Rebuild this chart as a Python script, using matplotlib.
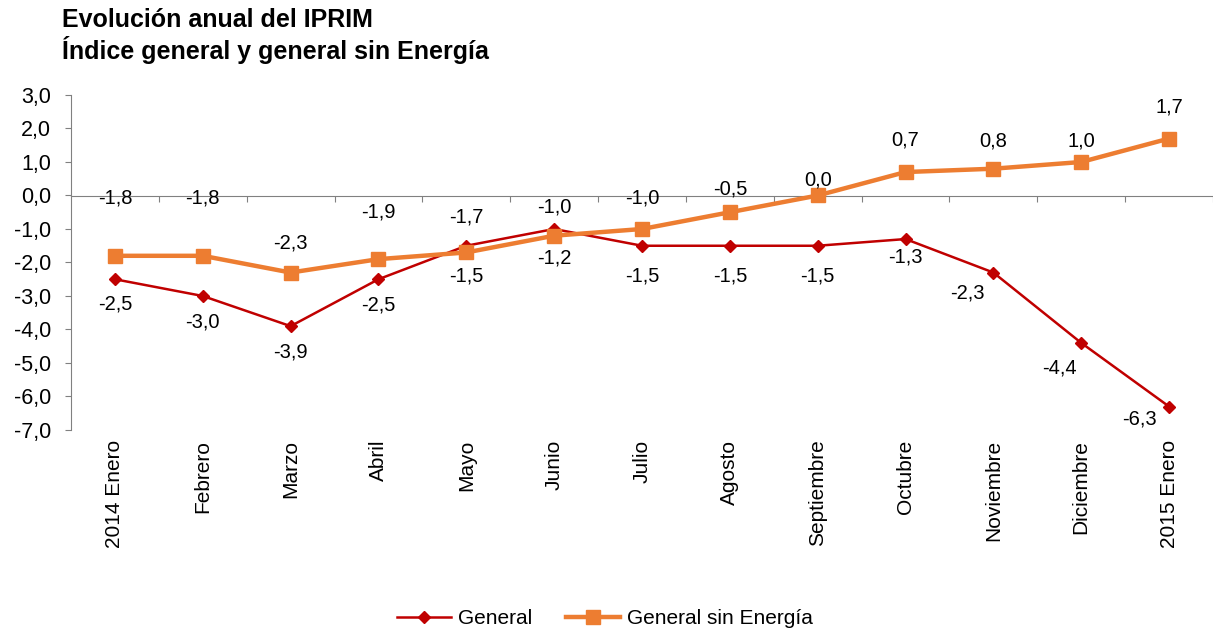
import matplotlib.pyplot as plt
from matplotlib.ticker import FuncFormatter

plt.rcParams['font.family'] = ['Liberation Sans', 'DejaVu Sans']

# category labels
months = ['2014 Enero', 'Febrero', 'Marzo', 'Abril', 'Mayo', 'Junio', 'Julio',
          'Agosto', 'Septiembre', 'Octubre', 'Noviembre', 'Diciembre', '2015 Enero']
# annual rates
general = [-2.5, -3.0, -3.9, -2.5, -1.5, -1.0, -1.5, -1.5, -1.5, -1.3, -2.3, -4.4, -6.3]
sin_energia = [-1.8, -1.8, -2.3, -1.9, -1.7, -1.2, -1.0, -0.5, 0.0, 0.7, 0.8, 1.0, 1.7]

# label offsets in pixels (dx, dy)
general_off = [(0, -25), (0, -26), (0, -26), (0, -26), (0, -30), (0, 22), (0, -30),
               (0, -30), (0, -30), (0, -18), (-26, -20), (-22, -25), (-30, -12)]
sin_off = [(0, 58), (0, 58), (0, 30), (0, 47), (0, 35), (0, -22), (0, 31),
           (0, 23), (0, 15), (0, 32), (0, 28), (0, 21), (0, 32)]

red = '#C00000'
orange = '#ED7D31'

fig = plt.figure(figsize=(12.13, 6.32), dpi=100)
ax = fig.add_axes([71 / 1213, 1 - 430 / 632, 1 - 71 / 1213, (430 - 95) / 632])

x = list(range(len(months)))
ax.plot(x, general, color=red, lw=1.8, marker='D', ms=6.5, label='General')
ax.plot(x, sin_energia, color=orange, lw=3.2, marker='s', ms=9.5, label='General sin Energía')

fmt = lambda v: ('%.1f' % v).replace('.', ',')
for i in x:
    ax.annotate(fmt(general[i]), (i, general[i]), xytext=general_off[i],
                textcoords='offset pixels', ha='center', va='center', fontsize=14.5)
    ax.annotate(fmt(sin_energia[i]), (i, sin_energia[i]), xytext=sin_off[i],
                textcoords='offset pixels', ha='center', va='center', fontsize=14.5)

ax.set_xlim(-0.5, 12.5)
ax.set_ylim(-7, 3)
ax.set_yticks(range(-7, 4))
ax.yaxis.set_major_formatter(FuncFormatter(lambda v, p: fmt(v)))
ax.tick_params(axis='y', direction='out', length=4.5, color='#808080', labelsize=15.5, pad=10)

ax.spines['top'].set_visible(False)
ax.spines['right'].set_visible(False)
ax.spines['bottom'].set_visible(False)
ax.spines['left'].set_color('#808080')

ax.set_xticks(x)
ax.set_xticklabels(months, rotation=90, fontsize=15)
ax.tick_params(axis='x', length=0, pad=7)

# horizontal axis line at zero with ticks between categories
sec = ax.secondary_xaxis(0.7)
sec.set_alignment('bottom')
sec.set_xticks([i + 0.5 for i in x])
sec.set_xticklabels([])
sec.tick_params(direction='out', length=4.5, color='#808080')
sec.spines['bottom'].set_color('#808080')

fig.text(62 / 1213, 1 - 20 / 632, 'Evolución anual del IPRIM', fontsize=18,
         fontweight='bold', va='center')
fig.text(62 / 1213, 1 - 50 / 632, 'Índice general y general sin Energía', fontsize=18,
         fontweight='bold', va='center')

fig.legend(loc='center', bbox_to_anchor=(605 / 1213, 1 - 619 / 632), ncol=2,
           frameon=False, fontsize=15, handlelength=2.6, handletextpad=0.35,
           columnspacing=1.6)

fig.savefig('out.png', dpi=100)
